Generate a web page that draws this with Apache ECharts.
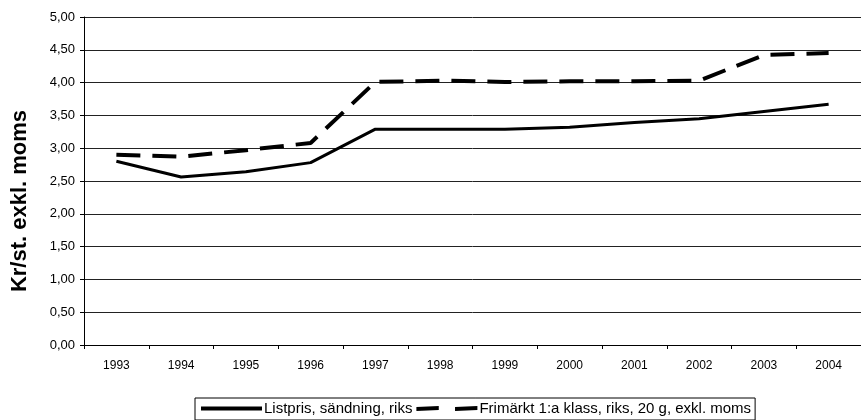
<!DOCTYPE html>
<html>
<head>
<meta charset="utf-8">
<script src="https://cdn.jsdelivr.net/npm/echarts@6/dist/echarts.min.js"></script>
<style>
  html, body { margin: 0; padding: 0; background: #fff; }
  #chart { width: 861px; height: 420px; }
</style>
</head>
<body>
<div id="chart"></div>
<script>
// Years on the category axis
const years = ['1993','1994','1995','1996','1997','1998','1999','2000','2001','2002','2003','2004'];
// List price per item, nationwide (kr, excl. VAT)
const listpris = [2.80, 2.56, 2.64, 2.78, 3.29, 3.29, 3.29, 3.32, 3.39, 3.45, 3.56, 3.67];
// First-class stamp, 20 g, nationwide (kr, excl. VAT)
const frimarkt = [2.90, 2.87, 2.97, 3.08, 4.01, 4.03, 4.01, 4.02, 4.02, 4.03, 4.42, 4.45];
const seriesNames = ['Listpris, sändning, riks', 'Frimärkt 1:a klass, riks, 20 g, exkl. moms'];
const yTitle = 'Kr/st. exkl. moms';

const chart = echarts.init(document.getElementById('chart'), null, { renderer: 'canvas' });
const font = 'Arial, "Liberation Sans", sans-serif';

chart.setOption({
  animation: false,
  backgroundColor: '#fff',
  grid: { left: 84, right: -3, top: 17, bottom: 75, containLabel: false },
  // Rotated value-axis title, placed a little below the plot's mid-height
  graphic: [{
    type: 'text',
    x: 20,
    y: 201,
    rotation: Math.PI / 2,
    style: {
      text: yTitle,
      font: 'bold 22px ' + font,
      fill: '#000',
      align: 'center',
      verticalAlign: 'middle'
    }
  }],
  legend: {
    top: 398,
    left: 195,
    padding: [3, 4, 4, 6],
    itemGap: 4,
    itemWidth: 61,
    itemHeight: 6,
    borderColor: '#000',
    borderWidth: 1,
    backgroundColor: '#fff',
    textStyle: { fontFamily: font, fontSize: 15, color: '#000', padding: [0, 0, 0, -3] },
    data: [
      { name: seriesNames[0], icon: 'path://M0,0 L60,0 L60,4 L0,4 Z', itemStyle: { color: '#000' } },
      { name: seriesNames[1], icon: 'path://M0,1 L22,0 L22,4 L0,5 Z M38,1 L60,0 L60,4 L38,5 Z', itemStyle: { color: '#000' } }
    ]
  },
  xAxis: {
    type: 'category',
    data: years,
    boundaryGap: true,
    axisLine: { lineStyle: { color: '#000', width: 1 } },
    axisTick: { show: true, length: 4, lineStyle: { color: '#000' } },
    axisLabel: { fontFamily: font, fontSize: 12, color: '#000', margin: 15 },
    splitLine: { show: false }
  },
  yAxis: {
    type: 'value',
    min: 0,
    max: 5,
    interval: 0.5,
    axisLine: { show: true, lineStyle: { color: '#000', width: 1 } },
    axisTick: { show: true, length: 4, lineStyle: { color: '#000' } },
    axisLabel: {
      fontFamily: font, fontSize: 13, color: '#000', margin: 9,
      formatter: v => v.toFixed(2).replace('.', ',')
    },
    splitLine: { show: true, lineStyle: { color: '#222', width: 1 } }
  },
  series: [
    {
      name: seriesNames[0],
      type: 'line',
      data: listpris,
      symbol: 'none',
      lineStyle: { color: '#000', width: 3, type: 'solid' },
      itemStyle: { color: '#000' }
    },
    {
      name: seriesNames[1],
      type: 'line',
      data: frimarkt,
      symbol: 'none',
      lineStyle: { color: '#000', width: 4, type: [24, 12] },
      itemStyle: { color: '#000' }
    }
  ]
});
</script>
</body>
</html>
